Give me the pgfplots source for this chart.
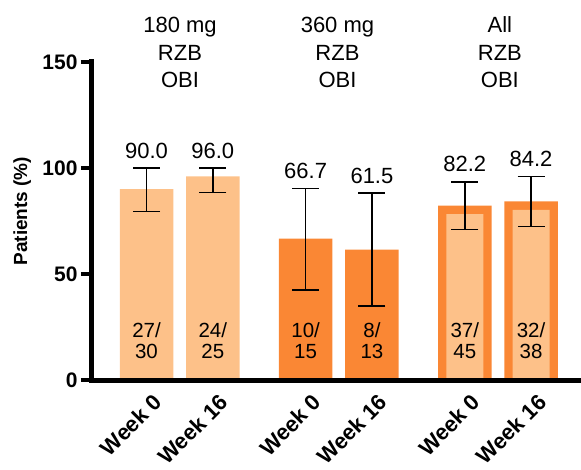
\documentclass[border=0pt]{standalone}
\usepackage{fontspec}
\setmainfont{Liberation Sans}
\usepackage{pgfplots}
\pgfplotsset{compat=1.18}
\definecolor{lightor}{RGB}{253,193,137}
\definecolor{darkor}{RGB}{250,135,52}
\begin{document}
\begin{tikzpicture}
\begin{axis}[
  name=ax,
  scale only axis,
  width=488pt, height=318pt,
  xmin=-0.822, xmax=6.538,
  ymin=0, ymax=150,
  clip=false,
  axis on top,
  axis x line*=bottom, axis y line*=left,
  axis line style={line width=5pt, -, line cap=rect},
  ytick={0,50,100,150},
  tick align=outside,
  ytick style={line width=4pt, black},
  major tick length=11pt,
  /pgf/number format/assume math mode=true,
  yticklabel style={font=\fontsize{21}{21}\selectfont\bfseries},
  xtick={0,1,2.4,3.4,4.8,5.8},
  xticklabels={Week 0, Week 16, Week 0, Week 16, Week 0, Week 16},
  xtick style={draw=none},
  xticklabel style={rotate=45, anchor=east, font=\fontsize{22}{22}\selectfont\bfseries, inner sep=0pt, yshift=-13pt, xshift=3pt},
  ylabel={Patients (\%)},
  ylabel style={font=\fontsize{19}{19}\selectfont\bfseries, at={(axis description cs:-0.143,0.531)}, anchor=center},
]
\addplot[ybar, bar width=53.5pt, bar shift=0pt, fill=lightor, draw=none] coordinates {(0,90.0) (1,96.0)};
\addplot[ybar, bar width=53.5pt, bar shift=0pt, fill=darkor, draw=none] coordinates {(2.4,66.7) (3.4,61.5)};
\addplot[ybar, bar width=53.5pt, bar shift=0pt, fill=darkor, draw=none] coordinates {(4.8,82.2) (5.8,84.2)};
\addplot[ybar, bar width=37pt, bar shift=0pt, fill=lightor, draw=none] coordinates {(4.8,78.3) (5.8,80.2)};
\addplot[ybar, bar width=53.5pt, bar shift=0pt, fill=none, draw=none,
  error bars/.cd, y dir=both, y explicit, error mark=|,
  error bar style={draw=black, line width=1.6pt},
  error mark options={draw=black, line width=1.6pt, mark size=13.5pt}]
  table[x=x, y=y, y error plus=ep, y error minus=em] {
x y ep em
0 90.0 10.0 10.6
1 96.0 4.0 7.6
2.4 66.7 23.7 24.2
3.4 61.5 26.6 26.5
4.8 82.2 11.2 11.3
5.8 84.2 11.7 11.7
};
% value labels
\node[anchor=base, font=\fontsize{22}{22}\selectfont, yshift=10pt] at (axis cs:0,100.0) {90.0};
\node[anchor=base, font=\fontsize{22}{22}\selectfont, yshift=10pt] at (axis cs:1,100.0) {96.0};
\node[anchor=base, font=\fontsize{22}{22}\selectfont, yshift=10pt] at (axis cs:2.4,90.4) {66.7};
\node[anchor=base, font=\fontsize{22}{22}\selectfont, yshift=10pt] at (axis cs:3.4,88.1) {61.5};
\node[anchor=base, font=\fontsize{22}{22}\selectfont, yshift=10pt] at (axis cs:4.8,93.4) {82.2};
\node[anchor=base, font=\fontsize{22}{22}\selectfont, yshift=10pt] at (axis cs:5.8,95.9) {84.2};
% fractions
\node[anchor=base, font=\fontsize{20.5}{20.5}\selectfont] at (axis cs:0,20.0) {27/};
\node[anchor=base, font=\fontsize{20.5}{20.5}\selectfont] at (axis cs:0,10.1) {30};
\node[anchor=base, font=\fontsize{20.5}{20.5}\selectfont] at (axis cs:1,20.0) {24/};
\node[anchor=base, font=\fontsize{20.5}{20.5}\selectfont] at (axis cs:1,10.1) {25};
\node[anchor=base, font=\fontsize{20.5}{20.5}\selectfont] at (axis cs:2.4,20.0) {10/};
\node[anchor=base, font=\fontsize{20.5}{20.5}\selectfont] at (axis cs:2.4,10.1) {15};
\node[anchor=base, font=\fontsize{20.5}{20.5}\selectfont] at (axis cs:3.4,20.0) {8/};
\node[anchor=base, font=\fontsize{20.5}{20.5}\selectfont] at (axis cs:3.4,10.1) {13};
\node[anchor=base, font=\fontsize{20.5}{20.5}\selectfont] at (axis cs:4.8,20.0) {37/};
\node[anchor=base, font=\fontsize{20.5}{20.5}\selectfont] at (axis cs:4.8,10.1) {45};
\node[anchor=base, font=\fontsize{20.5}{20.5}\selectfont] at (axis cs:5.8,20.0) {32/};
\node[anchor=base, font=\fontsize{20.5}{20.5}\selectfont] at (axis cs:5.8,10.1) {38};
% group labels
\node[anchor=base, font=\fontsize{22}{22}\selectfont] at (axis cs:0.505,163.7) {180 mg};
\node[anchor=base, font=\fontsize{22}{22}\selectfont] at (axis cs:0.505,150.5) {RZB};
\node[anchor=base, font=\fontsize{22}{22}\selectfont] at (axis cs:0.505,138.0) {OBI};
\node[anchor=base, font=\fontsize{22}{22}\selectfont] at (axis cs:2.88,163.7) {360 mg};
\node[anchor=base, font=\fontsize{22}{22}\selectfont] at (axis cs:2.88,150.5) {RZB};
\node[anchor=base, font=\fontsize{22}{22}\selectfont] at (axis cs:2.88,138.0) {OBI};
\node[anchor=base, font=\fontsize{22}{22}\selectfont] at (axis cs:5.33,163.7) {All};
\node[anchor=base, font=\fontsize{22}{22}\selectfont] at (axis cs:5.33,150.5) {RZB};
\node[anchor=base, font=\fontsize{22}{22}\selectfont] at (axis cs:5.33,138.0) {OBI};
\end{axis}
\pgfresetboundingbox
\path[use as bounding box] ([shift={(-92pt,-89pt)}]ax.south west) rectangle ([shift={(489pt,380pt)}]ax.south west);
\end{tikzpicture}
\end{document}
